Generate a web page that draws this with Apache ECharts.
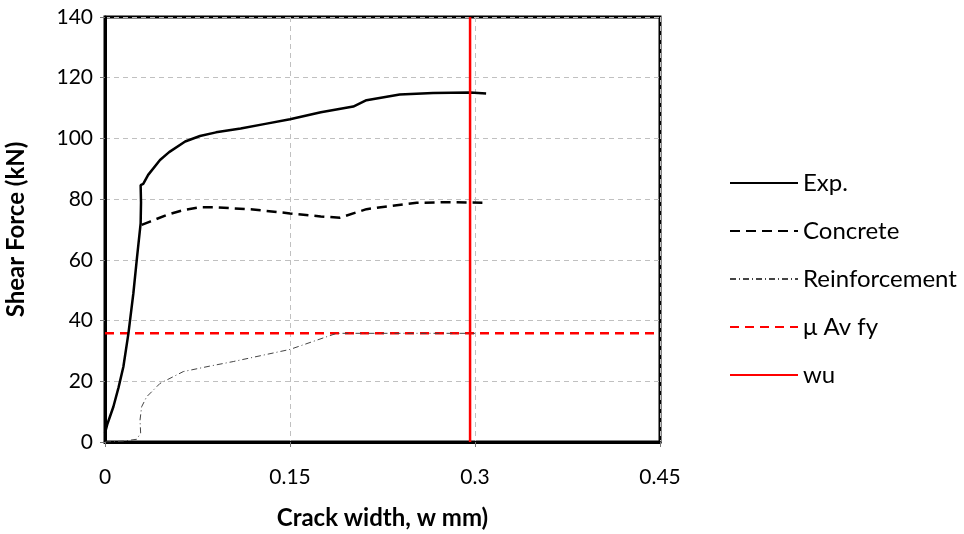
<!DOCTYPE html>
<html>
<head>
<meta charset="utf-8">
<script src="https://cdn.jsdelivr.net/npm/echarts@6/dist/echarts.min.js"></script>
<style>
  html, body { margin: 0; padding: 0; background: #fff; }
  #chart { width: 964px; height: 534px; }
</style>
</head>
<body>
<div id="chart"></div>
<script>
// values (x = crack width mm, y = shear force kN)
const expData = [
  [0, 3], [0.002, 6], [0.0068, 11.6], [0.011, 18], [0.0149, 24.8], [0.019, 35.8], [0.023, 49],
  [0.026, 61], [0.0289, 72], [0.0292, 79], [0.0289, 84.6], [0.031, 85], [0.035, 88],
  [0.0446, 92.9], [0.052, 95.5], [0.065, 99], [0.077, 100.8], [0.09, 102], [0.11, 103.3],
  [0.13, 104.8], [0.15, 106.3], [0.175, 108.6], [0.2013, 110.5], [0.212, 112.6],
  [0.239, 114.5], [0.266, 115], [0.296, 115.1], [0.309, 114.8]
];
const concreteData = [
  [0.0297, 71.5], [0.0365, 72.6], [0.05, 74.8], [0.0635, 76.4], [0.077, 77.3],
  [0.0905, 77.3], [0.12, 76.6], [0.15, 75.3], [0.175, 74.3], [0.1905, 73.9],
  [0.212, 76.7], [0.2527, 78.8], [0.28, 79], [0.306, 78.8]
];
const reinforcementData = [
  [0, 0], [0.015, 0.3], [0.0257, 0.9], [0.0289, 2.9], [0.0284, 7.2], [0.0297, 11.6],
  [0.0338, 14.9], [0.0446, 19.3], [0.0635, 23.2], [0.085, 25], [0.104, 26.5],
  [0.15, 30.5], [0.1878, 35.8], [0.23, 35.8], [0.266, 35.8], [0.3, 35.8]
];
const muAvFy = 35.8;
const wu = 0.296;
const xTicks = [0, 0.15, 0.3, 0.45];
const yMax = 140;

const font = 'Lato, "Liberation Sans", sans-serif';
const chart = echarts.init(document.getElementById('chart'));

const option = {
  animation: false,
  textStyle: { fontFamily: font, color: '#000' },
  grid: {
    left: 105, top: 17, width: 555, height: 425,
    outerBoundsMode: 'none', containLabel: false,
    show: true, borderColor: '#000', borderWidth: 3
  },
  legend: {
    orient: 'vertical',
    left: 724, top: 166,
    itemWidth: 68, itemHeight: 14, itemGap: 24,
    itemStyle: { opacity: 0 },
    textStyle: { fontFamily: font, fontSize: 24, color: '#000' },
    data: ['Exp.', 'Concrete', 'Reinforcement', 'μ Av fy', 'wu']
  },
  xAxis: {
    type: 'value', min: xTicks[0], max: xTicks[xTicks.length - 1], interval: 0.15,
    name: 'Crack width, w mm)', nameLocation: 'middle', nameGap: 64,
    nameTextStyle: { fontFamily: font, fontSize: 24, fontWeight: 'bold', color: '#000' },
    axisLine: { lineStyle: { color: '#000', width: 3 } },
    axisTick: { show: true, length: 5, lineStyle: { color: '#777' } },
    axisLabel: { fontFamily: font, fontSize: 21, color: '#000', margin: 25 },
    splitLine: { show: true, lineStyle: { color: '#c0c0c0', type: [5, 4], width: 1 } }
  },
  yAxis: {
    type: 'value', min: 0, max: yMax, interval: 20,
    name: 'Shear Force (kN)', nameLocation: 'middle', nameGap: 77,
    nameTextStyle: { fontFamily: font, fontSize: 24, fontWeight: 'bold', color: '#000' },
    axisLine: { show: true, lineStyle: { color: '#000', width: 3 } },
    axisTick: { show: true, length: 5, lineStyle: { color: '#777' } },
    axisLabel: { fontFamily: font, fontSize: 21, color: '#000', margin: 12 },
    splitLine: { show: true, lineStyle: { color: '#c0c0c0', type: [5, 4], width: 1 } }
  },
  series: [
    {
      name: 'Exp.', type: 'line', data: expData, showSymbol: false, symbol: 'none',
      lineStyle: { color: '#000', width: 2.5 }, itemStyle: { color: '#000' }, z: 5
    },
    {
      name: 'Concrete', type: 'line', data: concreteData, showSymbol: false, symbol: 'none',
      lineStyle: { color: '#000', width: 2.5, type: [10, 6] }, itemStyle: { color: '#000' }, z: 4
    },
    {
      name: 'Reinforcement', type: 'line', data: reinforcementData, showSymbol: false, symbol: 'none',
      lineStyle: { color: '#444', width: 1, type: [6, 3, 1, 3] }, itemStyle: { color: '#444' }, z: 4
    },
    {
      name: 'μ Av fy', type: 'line', data: [[xTicks[0], muAvFy], [xTicks[3], muAvFy]],
      showSymbol: false, symbol: 'none',
      lineStyle: { color: '#ff0000', width: 2.5, type: [9, 6] }, itemStyle: { color: '#ff0000' }, z: 3
    },
    {
      name: 'wu', type: 'line', data: [[wu, 0], [wu, yMax]], showSymbol: false, symbol: 'none',
      lineStyle: { color: '#ff0000', width: 2.5 }, itemStyle: { color: '#ff0000' }, z: 6
    }
  ]
};
chart.setOption(option);
</script>
</body>
</html>
